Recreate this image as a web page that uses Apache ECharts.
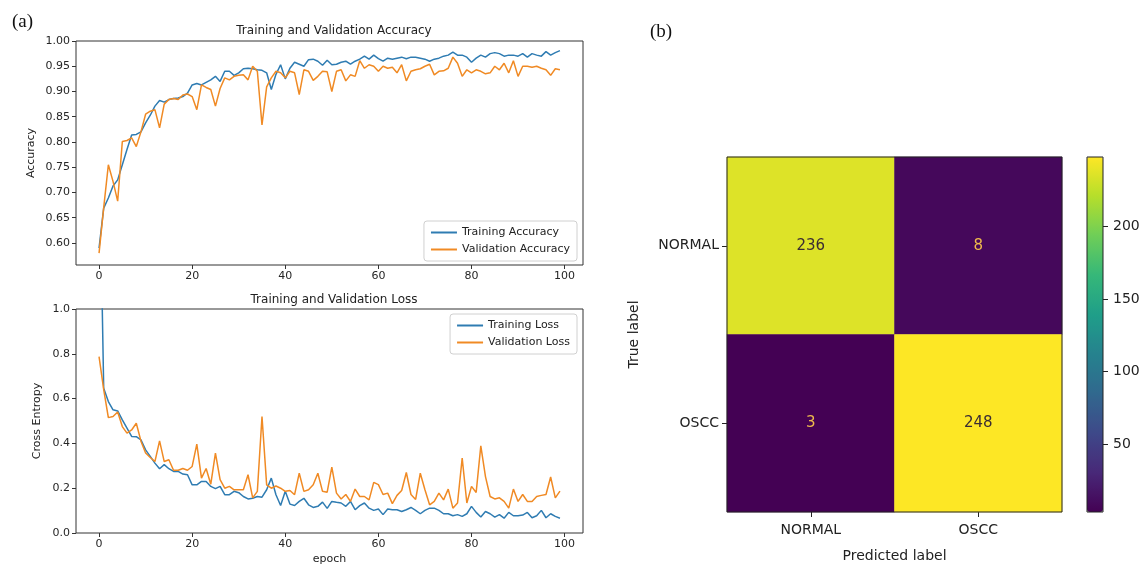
<!DOCTYPE html>
<html>
<head>
<meta charset="utf-8">
<script src="https://cdn.jsdelivr.net/npm/echarts@6.0.0/dist/echarts.min.js"></script>
<style>
  html, body { margin: 0; padding: 0; background: #fff; }
  #chart { width: 1146px; height: 569px; }
</style>
</head>
<body>
<div id="chart"></div>
<script>
// epochs 0..99
const epochs = Array.from({ length: 100 }, (_, i) => i)

const trainAcc = [
  0.59, 0.669, 0.689, 0.713, 0.725, 0.755, 0.785, 0.814, 0.815, 0.82,
  0.838, 0.853, 0.871, 0.882, 0.879, 0.884, 0.886, 0.887, 0.89, 0.897,
  0.913, 0.916, 0.913, 0.918, 0.923, 0.93, 0.92, 0.94, 0.94, 0.932,
  0.937, 0.945, 0.946, 0.945, 0.943, 0.942, 0.937, 0.904, 0.934, 0.953,
  0.925, 0.946, 0.958, 0.954, 0.95, 0.963, 0.964, 0.96, 0.952, 0.962,
  0.953, 0.954, 0.958, 0.96, 0.954, 0.96, 0.964, 0.97, 0.964, 0.972,
  0.965, 0.96, 0.966, 0.964, 0.966, 0.968, 0.965, 0.968, 0.968, 0.966,
  0.964, 0.96, 0.964, 0.966, 0.97, 0.972, 0.978, 0.972, 0.972, 0.968,
  0.958, 0.966, 0.972, 0.968, 0.975, 0.977, 0.975, 0.97, 0.972, 0.972,
  0.97, 0.975, 0.968, 0.975, 0.972, 0.97, 0.979, 0.972, 0.977, 0.981
]
const valAcc = [
  0.58, 0.67, 0.755, 0.722, 0.683, 0.801, 0.803, 0.808, 0.791, 0.82,
  0.855, 0.861, 0.864, 0.828, 0.875, 0.884, 0.886, 0.884, 0.893, 0.895,
  0.89, 0.864, 0.913, 0.908, 0.904, 0.871, 0.906, 0.927, 0.923, 0.93,
  0.932, 0.933, 0.923, 0.95, 0.94, 0.834, 0.909, 0.927, 0.94, 0.937,
  0.927, 0.94, 0.937, 0.894, 0.943, 0.94, 0.922, 0.93, 0.94, 0.939,
  0.9, 0.94, 0.943, 0.921, 0.933, 0.93, 0.961, 0.946, 0.953, 0.95,
  0.94, 0.95, 0.946, 0.948, 0.937, 0.953, 0.921, 0.94, 0.943, 0.945,
  0.95, 0.954, 0.933, 0.94, 0.941, 0.946, 0.968, 0.956, 0.93, 0.943,
  0.937, 0.943, 0.94, 0.935, 0.937, 0.95, 0.943, 0.956, 0.937, 0.961,
  0.93, 0.95, 0.95, 0.948, 0.95, 0.946, 0.943, 0.932, 0.945, 0.943
]
const trainLoss = [
  1.8, 0.646, 0.587, 0.55, 0.545, 0.505, 0.468, 0.431, 0.43, 0.416,
  0.371, 0.342, 0.312, 0.287, 0.305, 0.287, 0.275, 0.275, 0.263, 0.26,
  0.215, 0.215, 0.23, 0.23, 0.208, 0.198, 0.208, 0.171, 0.171, 0.186,
  0.18, 0.163, 0.152, 0.155, 0.163, 0.16, 0.193, 0.245, 0.171, 0.123,
  0.186, 0.129, 0.123, 0.141, 0.155, 0.126, 0.114, 0.119, 0.138, 0.11,
  0.141, 0.137, 0.134, 0.119, 0.141, 0.104, 0.122, 0.134, 0.111, 0.101,
  0.107, 0.082, 0.107, 0.104, 0.104, 0.096, 0.104, 0.114, 0.101, 0.086,
  0.101, 0.111, 0.111, 0.101, 0.086, 0.086, 0.077, 0.082, 0.074, 0.086,
  0.119, 0.092, 0.071, 0.096, 0.086, 0.071, 0.082, 0.066, 0.092, 0.077,
  0.077, 0.08, 0.092, 0.068, 0.077, 0.101, 0.068, 0.086, 0.074, 0.066
]
const valLoss = [
  0.787, 0.64, 0.515, 0.52, 0.54, 0.475, 0.446, 0.46, 0.49, 0.41,
  0.357, 0.337, 0.319, 0.411, 0.319, 0.327, 0.28, 0.28, 0.288, 0.28,
  0.297, 0.397, 0.245, 0.288, 0.218, 0.357, 0.238, 0.2, 0.208, 0.193,
  0.193, 0.193, 0.26, 0.157, 0.186, 0.52, 0.215, 0.2, 0.21, 0.2,
  0.186, 0.19, 0.171, 0.267, 0.186, 0.193, 0.215, 0.267, 0.186, 0.182,
  0.294, 0.178, 0.152, 0.172, 0.141, 0.196, 0.163, 0.163, 0.148, 0.226,
  0.216, 0.172, 0.178, 0.131, 0.168, 0.19, 0.27, 0.172, 0.15, 0.267,
  0.193, 0.126, 0.141, 0.178, 0.148, 0.196, 0.111, 0.134, 0.334, 0.134,
  0.208, 0.181, 0.389, 0.252, 0.163, 0.152, 0.157, 0.141, 0.111, 0.196,
  0.141, 0.172, 0.141, 0.141, 0.163, 0.168, 0.172, 0.25, 0.157, 0.187
]

const epochTicks = [0, 20, 40, 60, 80, 100]
const accTicks = [0.6, 0.65, 0.7, 0.75, 0.8, 0.85, 0.9, 0.95, 1.0]
const lossTicks = [0, 0.2, 0.4, 0.6, 0.8, 1.0]

// confusion matrix (rows = true label, cols = predicted label)
const classLabels = ['NORMAL', 'OSCC']
const cmValues = [
  [236, 8],
  [3, 248]
]
const colorbarTicks = [50, 100, 150, 200]
const viridis = ['#440154', '#482878', '#3e4989', '#31688e', '#26828e', '#1f9e89', '#35b779', '#6ece58', '#b5de2b', '#fde725']

const FONT = 'DejaVu Sans'
const blue = '#2f7cb2'
const orange = '#f08a24'

const toXY = arr => epochs.map((e, i) => [e, arr[i]])

const cmMin = Math.min(...cmValues.flat())
const cmMax = Math.max(...cmValues.flat())
const cmData = []
cmValues.forEach((row, i) => {
  row.forEach((v, j) => {
    const dark = v < (cmMin + cmMax) / 2
    cmData.push({
      value: [j, i, v],
      label: { color: dark ? '#efbb4c' : '#3a2c33' }
    })
  })
})

const lineXAxis = (gridIndex, name) => ({
  gridIndex,
  type: 'value',
  min: -4.95,
  max: 103.95,
  name: name || '',
  nameLocation: 'middle',
  nameGap: 21,
  nameTextStyle: { fontFamily: FONT, fontSize: 11, color: '#222' },
  axisLine: { show: false, onZero: false },
  axisTick: { show: true, inside: false, length: 4, customValues: epochTicks, lineStyle: { color: '#333' } },
  axisLabel: { customValues: epochTicks, fontFamily: FONT, fontSize: 11, color: '#262626', margin: 6 },
  splitLine: { show: false }
})

const lineSeries = (name, arr, color, idx) => ({
  name,
  type: 'line',
  xAxisIndex: idx,
  yAxisIndex: idx,
  data: toXY(arr),
  showSymbol: false,
  symbol: 'none',
  clip: true,
  lineStyle: { color, width: 1.5 },
  itemStyle: { color }
})

const legendBase = {
  orient: 'vertical',
  right: 569,
  padding: [6, 7],
  itemGap: 6,
  itemWidth: 26,
  itemHeight: 2,
  icon: 'rect',
  borderColor: '#d0d0d0',
  borderWidth: 1,
  borderRadius: 3,
  backgroundColor: '#fff',
  textStyle: { fontFamily: FONT, fontSize: 11, color: '#222', lineHeight: 11 }
}

const chart = echarts.init(document.getElementById('chart'))

const option = {
  animation: false,
  backgroundColor: '#fff',
  title: [
    { text: '(a)', left: 7, top: 8, textStyle: { fontFamily: 'Liberation Serif', fontSize: 19, fontWeight: 'normal', color: '#111' } },
    { text: '(b)', left: 645, top: 18, textStyle: { fontFamily: 'Liberation Serif', fontSize: 19, fontWeight: 'normal', color: '#111' } },
    { text: 'Training and Validation Accuracy', left: 329, textAlign: 'center', top: 20, textStyle: { fontFamily: FONT, fontSize: 12, fontWeight: 'normal', color: '#222' } },
    { text: 'Training and Validation Loss', left: 329, textAlign: 'center', top: 289, textStyle: { fontFamily: FONT, fontSize: 12, fontWeight: 'normal', color: '#222' } }
  ],
  legend: [
    Object.assign({}, legendBase, { top: 221, data: ['Training Accuracy', 'Validation Accuracy'] }),
    Object.assign({}, legendBase, { top: 314, data: ['Training Loss', 'Validation Loss'] })
  ],
  grid: [
    { left: 76, top: 41, width: 507, height: 224, show: true, borderColor: '#333', borderWidth: 1, backgroundColor: 'transparent' },
    { left: 76, top: 309, width: 507, height: 224, show: true, borderColor: '#333', borderWidth: 1, backgroundColor: 'transparent' },
    { left: 727, top: 157, width: 335, height: 355, show: true, borderColor: '#222', borderWidth: 1, backgroundColor: 'transparent', z: 5 },
    { left: 1087, top: 157, width: 16, height: 355, show: true, borderColor: '#222', borderWidth: 1, backgroundColor: 'transparent', z: 10 }
  ],
  xAxis: [
    lineXAxis(0),
    lineXAxis(1, 'epoch'),
    {
      gridIndex: 2,
      type: 'category',
      data: classLabels,
      name: 'Predicted label',
      nameLocation: 'middle',
      nameGap: 37,
      nameTextStyle: { fontFamily: FONT, fontSize: 14, color: '#222' },
      axisLine: { show: false, onZero: false },
      axisTick: { show: true, alignWithLabel: true, length: 5, lineStyle: { color: '#222' } },
      axisLabel: { fontFamily: FONT, fontSize: 14, color: '#222', margin: 11 },
      splitLine: { show: false },
      splitArea: { show: false }
    },
    { gridIndex: 3, type: 'value', min: 0, max: 1, show: false }
  ],
  yAxis: [
    {
      gridIndex: 0,
      type: 'value',
      min: 0.5564,
      max: 1.0,
      name: 'Accuracy',
      nameLocation: 'middle',
      nameGap: 39,
      nameTextStyle: { fontFamily: FONT, fontSize: 11, color: '#222' },
      axisLine: { show: false, onZero: false },
      axisTick: { show: true, length: 4, customValues: accTicks, lineStyle: { color: '#333' } },
      axisLabel: { customValues: accTicks, formatter: v => v.toFixed(2), fontFamily: FONT, fontSize: 11, color: '#262626', margin: 6 },
      splitLine: { show: false }
    },
    {
      gridIndex: 1,
      type: 'value',
      min: 0,
      max: 1.0,
      name: 'Cross Entropy',
      nameLocation: 'middle',
      nameGap: 33,
      nameTextStyle: { fontFamily: FONT, fontSize: 11, color: '#222' },
      axisLine: { show: false, onZero: false },
      axisTick: { show: true, length: 4, customValues: lossTicks, lineStyle: { color: '#333' } },
      axisLabel: { customValues: lossTicks, formatter: v => v.toFixed(1), fontFamily: FONT, fontSize: 11, color: '#262626', margin: 6 },
      splitLine: { show: false }
    },
    {
      gridIndex: 2,
      type: 'category',
      data: classLabels,
      inverse: true,
      name: 'True label',
      nameLocation: 'middle',
      nameGap: 86,
      nameTextStyle: { fontFamily: FONT, fontSize: 14, color: '#222' },
      axisLine: { show: false, onZero: false },
      axisTick: { show: true, alignWithLabel: true, length: 5, lineStyle: { color: '#222' } },
      axisLabel: { fontFamily: FONT, fontSize: 14, color: '#222', margin: 8 },
      splitLine: { show: false },
      splitArea: { show: false }
    },
    {
      gridIndex: 3,
      type: 'value',
      position: 'right',
      min: cmMin,
      max: cmMax,
      axisLine: { show: false, onZero: false },
      axisTick: { show: true, length: 5, customValues: colorbarTicks, lineStyle: { color: '#222' } },
      axisLabel: { customValues: colorbarTicks, fontFamily: FONT, fontSize: 14, color: '#222', margin: 10 },
      splitLine: { show: false }
    }
  ],
  visualMap: {
    type: 'continuous',
    seriesIndex: 4,
    min: cmMin,
    max: cmMax,
    left: 1087,
    top: 157,
    itemWidth: 16,
    itemHeight: 355,
    padding: 0,
    calculable: false,
    hoverLink: false,
    text: ['', ''],
    showLabel: false,
    inRange: { color: viridis }
  },
  series: [
    lineSeries('Training Accuracy', trainAcc, blue, 0),
    lineSeries('Validation Accuracy', valAcc, orange, 0),
    lineSeries('Training Loss', trainLoss, blue, 1),
    lineSeries('Validation Loss', valLoss, orange, 1),
    {
      name: 'Confusion matrix',
      type: 'heatmap',
      xAxisIndex: 2,
      yAxisIndex: 2,
      data: cmData,
      label: {
        show: true,
        formatter: p => p.value[2],
        fontFamily: FONT,
        fontSize: 15
      },
      itemStyle: { borderWidth: 0 },
      emphasis: { disabled: true }
    }
  ]
}

chart.setOption(option)
</script>
</body>
</html>
